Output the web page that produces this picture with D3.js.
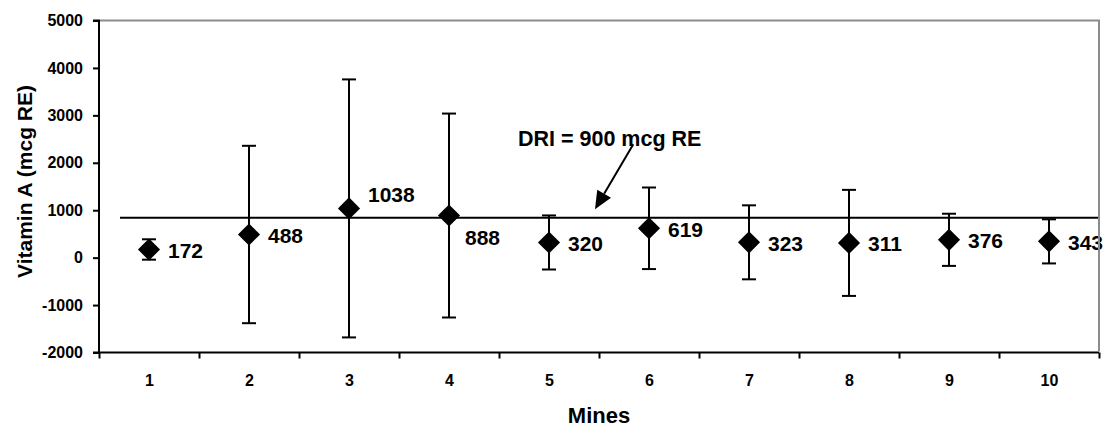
<!DOCTYPE html>
<html>
<head>
<meta charset="utf-8">
<script src="https://cdn.jsdelivr.net/npm/d3@7"></script>
<style>
  html, body { margin: 0; padding: 0; background: #fff; }
  svg { display: block; font-family: "Liberation Sans", Arial, sans-serif; }
</style>
</head>
<body>
<svg id="chart" width="1106" height="427"></svg>
<script>
// ---- data ----
const mines = [1, 2, 3, 4, 5, 6, 7, 8, 9, 10];
const means = [172, 488, 1038, 888, 320, 619, 323, 311, 376, 343];
const errors = [215, 1870, 2720, 2150, 570, 860, 780, 1118, 550, 465];
const yTicks = [-2000, -1000, 0, 1000, 2000, 3000, 4000, 5000];
const driValue = 840;          // drawn position of the reference line
const driLabel = "DRI = 900 mcg RE";
const yTitle = "Vitamin A (mcg RE)";
const xTitle = "Mines";

// ---- layout ----
const svg = d3.select("#chart");
const L = 99, R = 1099, T = 20.5, B = 352.5;

const x = d3.scaleLinear().domain([0.5, 10.5]).range([L, R]);
const y = d3.scaleLinear().domain([-2000, 5000]).range([B, T]);
const fmt = d => String(d);   // plain hyphen-minus as in the reference

// y axis
const yAxis = svg.append("g").attr("transform", `translate(${L},0)`)
  .call(d3.axisLeft(y).tickValues(yTicks).tickSize(6).tickPadding(10).tickFormat(fmt));
yAxis.select(".domain").attr("stroke", "#000").attr("stroke-width", 2).attr("d", `M-6,${B}H0V${T}H-6`);
yAxis.selectAll(".tick line").attr("stroke", "#000").attr("stroke-width", 2);
yAxis.selectAll("text").attr("font-size", 16).attr("font-weight", "bold").attr("fill", "#000")
  .attr("font-family", "Liberation Sans, Arial, sans-serif");

// x axis: boundary ticks
const bounds = d3.range(0.5, 11, 1);
const xAxisT = svg.append("g").attr("transform", `translate(0,${B})`)
  .call(d3.axisBottom(x).tickValues(bounds).tickSize(6).tickFormat(""));
xAxisT.select(".domain").attr("stroke", "#000").attr("stroke-width", 2).attr("d", `M${L},0H${R}`);
xAxisT.selectAll(".tick line").attr("stroke", "#000").attr("stroke-width", 2);

// x axis: labels at category centres
const xAxisL = svg.append("g").attr("transform", `translate(0,${B})`)
  .call(d3.axisBottom(x).tickValues(mines).tickSize(0).tickPadding(22).tickFormat(fmt));
xAxisL.select(".domain").remove();
xAxisL.selectAll("text").attr("font-size", 16).attr("font-weight", "bold").attr("fill", "#000")
  .attr("font-family", "Liberation Sans, Arial, sans-serif");

// axis titles
svg.append("text").attr("x", (L + R) / 2).attr("y", 423)
  .attr("text-anchor", "middle").attr("font-size", 22).attr("font-weight", "bold").text(xTitle);
svg.append("text").attr("transform", `translate(31.5,${(T + B) / 2 - 5}) rotate(-90)`)
  .attr("text-anchor", "middle").attr("font-size", 21).attr("font-weight", "bold").text(yTitle);

// DRI reference line
svg.append("line")
  .attr("x1", x(0.71)).attr("x2", R - 1)
  .attr("y1", y(driValue)).attr("y2", y(driValue))
  .attr("stroke", "#000").attr("stroke-width", 2);

// error bars
const data = mines.map((m, i) => ({ m, v: means[i], e: errors[i] }));
const cap = 7;
const eb = svg.append("g").attr("stroke", "#000").attr("stroke-width", 2);
data.forEach(d => {
  const cx = x(d.m);
  eb.append("line").attr("x1", cx).attr("x2", cx).attr("y1", y(d.v + d.e)).attr("y2", y(d.v - d.e));
  eb.append("line").attr("x1", cx - cap).attr("x2", cx + cap).attr("y1", y(d.v + d.e)).attr("y2", y(d.v + d.e));
  eb.append("line").attr("x1", cx - cap).attr("x2", cx + cap).attr("y1", y(d.v - d.e)).attr("y2", y(d.v - d.e));
});

// diamonds
const diamond = d3.symbol().type(d3.symbolSquare).size(245);
svg.append("g").selectAll("path").data(data).join("path")
  .attr("d", diamond)
  .attr("transform", d => `translate(${x(d.m)},${y(d.v)}) rotate(45)`)
  .attr("fill", "#000");

// value labels
const labelDy = { 3: -14, 4: 22 };
svg.append("g").selectAll("text").data(data).join("text")
  .attr("x", d => x(d.m) + (d.m === 4 ? 16 : 19))
  .attr("y", d => y(d.v) + (labelDy[d.m] || 1))
  .attr("dy", "0.36em")
  .attr("font-size", 21).attr("font-weight", "bold").attr("fill", "#000")
  .text(d => d.v);

// DRI annotation + arrow
svg.append("text").attr("x", x(4.69)).attr("y", y(2350))
  .attr("font-size", 21.5).attr("font-weight", "bold").text(driLabel);

const from = [x(5.843), y(2390)];
const tip = [x(5.46), y(driValue) - 8.5];
const dx = tip[0] - from[0], dy = tip[1] - from[1];
const len = Math.hypot(dx, dy), ux = dx / len, uy = dy / len;
const headL = 18, headW = 8;
const base = [tip[0] - ux * headL, tip[1] - uy * headL];
svg.append("line").attr("x1", from[0]).attr("y1", from[1]).attr("x2", base[0]).attr("y2", base[1])
  .attr("stroke", "#000").attr("stroke-width", 2);
svg.append("path")
  .attr("d", `M${tip[0]},${tip[1]}L${base[0] - uy * headW},${base[1] + ux * headW}L${base[0] + uy * headW},${base[1] - ux * headW}Z`)
  .attr("fill", "#000");

// plot border (top / right gray), drawn over the labels as in the reference
svg.append("path")
  .attr("d", `M${L + 1},${T}H${R}V${B - 1}`)
  .attr("fill", "none").attr("stroke", "#8c8c8c").attr("stroke-width", 2);
</script>
</body>
</html>
